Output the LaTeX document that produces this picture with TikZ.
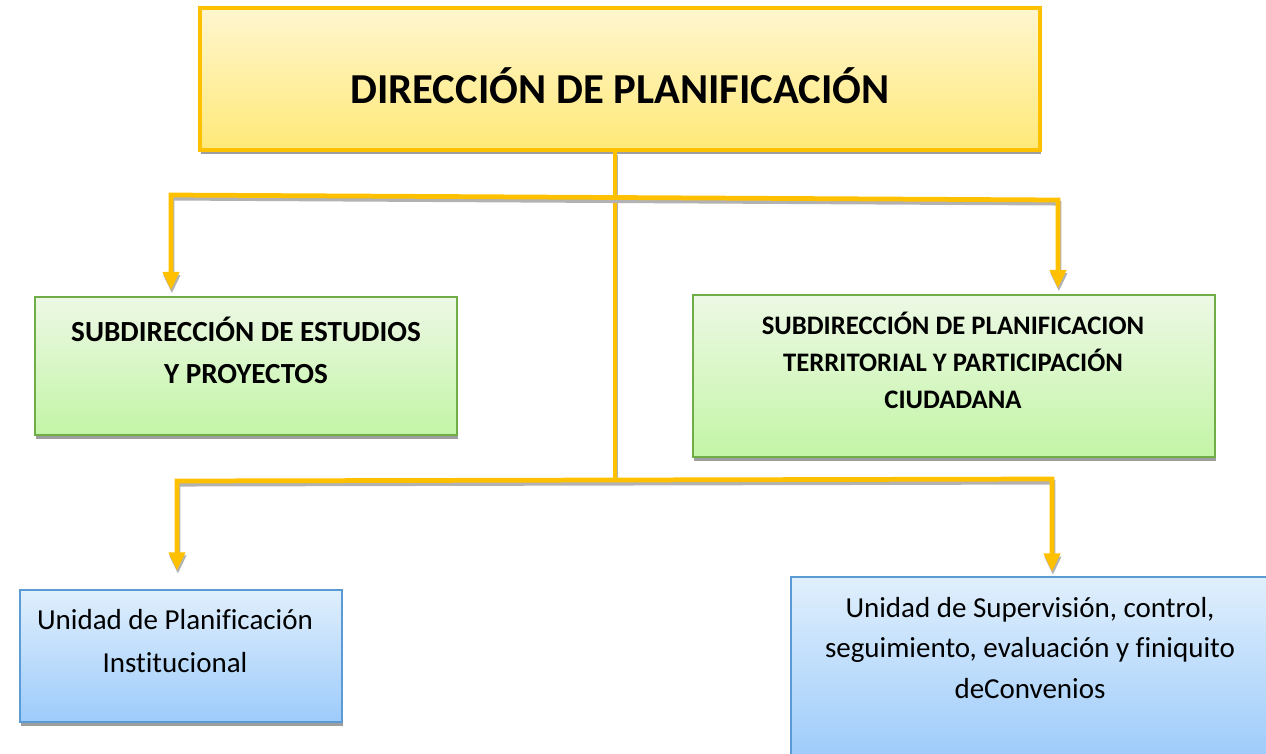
\documentclass[tikz,border=0pt]{standalone}
\usepackage{fontspec}
\setmainfont{Carlito}[Ligatures=NoCommon]
\usetikzlibrary{arrows.meta,shadows}

\definecolor{linkyellow}{HTML}{FFC000}
\definecolor{dirborder}{HTML}{FFC000}
\definecolor{dirtop}{HTML}{FFF6CF}
\definecolor{dirbottom}{HTML}{FFE978}
\definecolor{subborder}{HTML}{70AD47}
\definecolor{subtop}{HTML}{EDF8E5}
\definecolor{subbottom}{HTML}{C3F5A6}
\definecolor{unitborder}{HTML}{5B9BD5}
\definecolor{unittop}{HTML}{E0EFFC}
\definecolor{unitbottom}{HTML}{9DCBFB}

\begin{document}
\begin{tikzpicture}[x=0.02cm, y=-0.02cm,
    box/.style={draw, rectangle, inner sep=0pt,
      drop shadow={shadow xshift=0.6pt, shadow yshift=-2.4pt, fill=black!38, opacity=1}},
    dirbox/.style={box, draw=dirborder, line width=2pt, top color=dirtop, bottom color=dirbottom},
    subbox/.style={box, draw=subborder, line width=1.6pt, top color=subtop, bottom color=subbottom},
    unitbox/.style={box, draw=unitborder, line width=0.9pt, top color=unittop, bottom color=unitbottom},
    boxtext/.style={align=center, inner sep=0pt},
    link/.style={draw=linkyellow, line width=2.7pt,
      preaction={draw=black!30, line width=2.7pt, transform canvas={shift={(0.5pt,-1.8pt)}}}},
    arrow/.style={link, -{Triangle[width=9pt,length=10.5pt]}}
  ]
    \useasboundingbox (0,0) rectangle (1266,753);
    \clip (0,0) rectangle (1266,753);

    % boxes
    \path (620, 79)    node[dirbox, minimum width=16.8cm, minimum height=2.84cm]  (dir)   {};
    \path (246, 366)   node[subbox, minimum width=8.44cm, minimum height=2.76cm]  (sub1)  {};
    \path (954, 376)   node[subbox, minimum width=10.44cm, minimum height=3.24cm] (sub2)  {};
    \path (181, 656)   node[unitbox, minimum width=6.44cm, minimum height=2.64cm] (unit1) {};
    \path (1031.5, 668.5) node[unitbox, minimum width=9.62cm, minimum height=3.66cm] (unit2) {};

    % texts
    \path (620, 86)  node[boxtext, font=\fontsize{24.3}{28}\selectfont\bfseries] (dir-text)
      {DIRECCIÓN DE PLANIFICACIÓN};
    \path (246, 350) node[boxtext, font=\fontsize{16.6}{23.8}\selectfont\bfseries] (sub1-text)
      {SUBDIRECCIÓN DE ESTUDIOS\\Y PROYECTOS};
    \path (953, 360) node[boxtext, font=\fontsize{15.2}{21}\selectfont\bfseries] (sub2-text)
      {SUBDIRECCIÓN DE PLANIFICACION\\TERRITORIAL Y PARTICIPACIÓN\\CIUDADANA};
    \path (175, 641) node[boxtext, font=\fontsize{16.5}{24.4}\selectfont] (unit1-text)
      {Unidad de Planificación\\Institucional};
    \path (1030, 648) node[boxtext, font=\fontsize{16.5}{23}\selectfont] (unit2-text)
      {Unidad de Supervisión, control,\\seguimiento, evaluación y finiquito\\deConvenios};

    % bus points
    \coordinate (b1l) at (171, 195);
    \coordinate (b1m) at (615, 197.5);
    \coordinate (b1r) at (1058, 200);
    \coordinate (b2l) at (177, 481);
    \coordinate (b2m) at (615, 480);
    \coordinate (b2r) at (1052, 479);

    \draw[link] (b1m |- dir.south) -- (b2m);

    \draw[arrow, shorten >=3pt] (b1m) -- (b1l) -- (b1l |- sub1.north);
    \draw[arrow, shorten >=3pt] (b1m) -- (b1r) -- (b1r |- sub2.north);

    \draw[arrow, shorten >=10.5pt] (b2m) -- (b2l) -- (b2l |- unit1.north);
    \draw[arrow, shorten >=2.5pt] (b2m) -- (b2r) -- (b2r |- unit2.north);
\end{tikzpicture}
\end{document}
